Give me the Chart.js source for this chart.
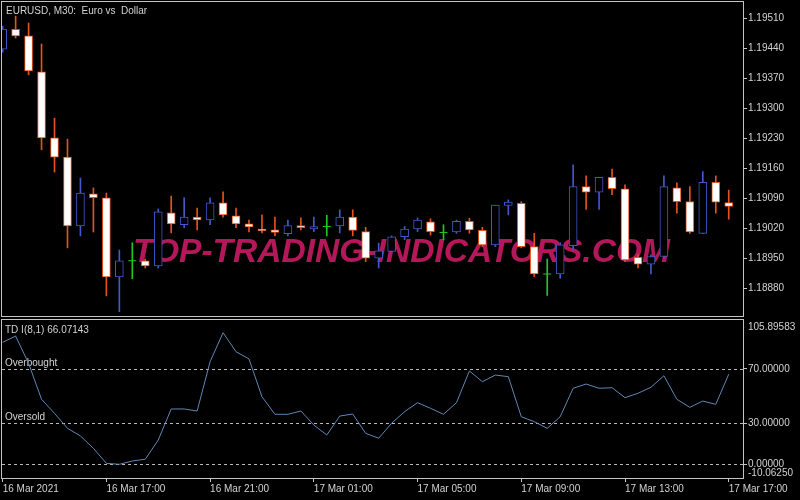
<!DOCTYPE html>
<html>
<head>
<meta charset="utf-8">
<script src="https://cdn.jsdelivr.net/npm/chart.js@4.4.1/dist/chart.umd.min.js"></script>
<style>
  body { margin: 0; background: #000; width: 800px; height: 500px; overflow: hidden; position: relative; }
  #priceChart { position: absolute; left: 0; top: 0; }
  #tdChart { position: absolute; left: 0; top: 318px; }
</style>
</head>
<body>
<canvas id="priceChart" width="800" height="318"></canvas>
<canvas id="tdChart" width="800" height="182"></canvas>
<script>
// ---------------- data (EURUSD M30, 16 Mar 13:00 -> 17 Mar 17:00) ----------------
const opens = [1.19438, 1.19484, 1.19469, 1.19385, 1.19231, 1.19186, 1.19025, 1.19100, 1.19091, 1.18906,
  1.18944, 1.18944, 1.18932, 1.19056, 1.19028, 1.19046, 1.19039, 1.19079, 1.19049, 1.19030,
  1.19018, 1.19016, 1.19007, 1.19026, 1.19018, 1.19024, 1.19025, 1.19046, 1.19012, 1.18950,
  1.18966, 1.19000, 1.19018, 1.19035, 1.19010, 1.19011, 1.19036, 1.19015, 1.18981, 1.19073,
  1.19078, 1.18977, 1.18913, 1.18913, 1.18979, 1.19117, 1.19104, 1.19139, 1.19112, 1.18952,
  1.18936, 1.18954, 1.19114, 1.19082, 1.19008, 1.19127, 1.19080];
const highs = [1.19492, 1.19515, 1.19499, 1.19450, 1.19277, 1.19228, 1.19137, 1.19114, 1.19102, 1.18969,
  1.18986, 1.18948, 1.19065, 1.19095, 1.19091, 1.19067, 1.19091, 1.19105, 1.19067, 1.19039,
  1.19051, 1.19046, 1.19039, 1.19044, 1.19046, 1.19050, 1.19063, 1.19063, 1.19022, 1.18985,
  1.19002, 1.19024, 1.19044, 1.19042, 1.19028, 1.19039, 1.19043, 1.19022, 1.19074, 1.19086,
  1.19082, 1.19008, 1.18948, 1.18986, 1.19168, 1.19142, 1.19139, 1.19158, 1.19121, 1.18958,
  1.18958, 1.19142, 1.19126, 1.19117, 1.19152, 1.19142, 1.19109];
const lows = [1.19431, 1.19464, 1.19378, 1.19203, 1.19151, 1.18974, 1.19002, 1.19011, 1.18862, 1.18825,
  1.18902, 1.18927, 1.18927, 1.19009, 1.19021, 1.19016, 1.19028, 1.19046, 1.19021, 1.19011,
  1.19009, 1.19002, 1.19002, 1.19016, 1.19012, 1.19002, 1.19009, 1.19002, 1.18942, 1.18927,
  1.18965, 1.18993, 1.19012, 1.19004, 1.18993, 1.19008, 1.19008, 1.18977, 1.18977, 1.19051,
  1.18974, 1.18907, 1.18863, 1.18903, 1.18969, 1.19064, 1.19064, 1.19098, 1.18942, 1.18927,
  1.18913, 1.18951, 1.19055, 1.19008, 1.19007, 1.19055, 1.19041];
const closes = [1.19485, 1.19469, 1.19387, 1.19231, 1.19186, 1.19025, 1.19102, 1.19091, 1.18906, 1.18944,
  1.18944, 1.18932, 1.19058, 1.19030, 1.19046, 1.19039, 1.19079, 1.19051, 1.19030, 1.19023,
  1.19014, 1.19010, 1.19026, 1.19021, 1.19024, 1.19024, 1.19046, 1.19015, 1.18950, 1.18967,
  1.19000, 1.19018, 1.19039, 1.19012, 1.19010, 1.19036, 1.19016, 1.18981, 1.19074, 1.19081,
  1.18977, 1.18913, 1.18913, 1.18981, 1.19117, 1.19104, 1.19139, 1.19112, 1.18946, 1.18936,
  1.18954, 1.19117, 1.19082, 1.19011, 1.19127, 1.19081, 1.19071];

// TD I(8,1) indicator
const tdValues = [89.5, 94.1, 74.1, 47.7, 37.4, 26.4, 20.8, 11.7, 0.7, 0.0,
  2.4, 3.7, 17.8, 40.6, 40.6, 39.1, 75.3, 96.6, 82.6, 77.3,
  49.6, 36.7, 36.7, 39.1, 28.8, 21.5, 35.4, 36.9, 22.7, 19.1,
  30.1, 38.6, 45.2, 41.1, 36.7, 45.2, 68.5, 60.6, 65.5, 64.3,
  34.9, 31.3, 26.4, 34.9, 55.8, 58.9, 55.8, 56.2, 48.9, 52.1,
  56.5, 65.0, 47.7, 41.8, 46.4, 44.0, 66.07143];
const tdLevels = [70, 30, 0];
const tdRange = [-10.0625, 105.89583];

const priceTicks = [1.19510, 1.19440, 1.19370, 1.19300, 1.19230, 1.19160, 1.19090, 1.19020, 1.18950, 1.18880];
const priceRange = [1.18815, 1.19548];

const timeTickIdx = [0, 8, 16, 24, 32, 40, 48, 56];
const timeTickLabels = ["16 Mar 2021", "16 Mar 17:00", "16 Mar 21:00", "17 Mar 01:00",
  "17 Mar 05:00", "17 Mar 09:00", "17 Mar 13:00", "17 Mar 17:00"];

// ---------------- styles ----------------
const BLUE = "#4259c9";
const ORANGE = "#e4521e";
const GREEN = "#22c622";
const TEXT = "#d2d2d2";
const FRAME = "#c4c4c4";
const FONT = '"Liberation Sans", Arial, sans-serif';

Chart.defaults.font.family = FONT;
Chart.defaults.font.size = 10;
Chart.defaults.color = TEXT;
Chart.defaults.animation = false;

const xMin = -0.05, xMax = 57.1;

const isDoji = (i) => opens[i] === closes[i];
const isBull = (i) => closes[i] > opens[i];
const candleColor = (i) => (isDoji(i) ? GREEN : isBull(i) ? BLUE : ORANGE);

const wickData = highs.map((h, i) => ({ x: i, y: [lows[i], h] }));
const wickColors = highs.map((h, i) => candleColor(i));

const bodyData = [], bodyFill = [], bodyLine = [], dojiData = [];
opens.forEach((o, i) => {
  if (isDoji(i)) {
    dojiData.push({ x: i, y: o });
  } else {
    bodyData.push({ x: i, y: [o, closes[i]] });
    bodyFill.push(isBull(i) ? "#000000" : "#ffffff");
    bodyLine.push(candleColor(i));
  }
});

// no extra room for half labels, keep the panes where MT4 has them
function noPad(s) {
  s.paddingLeft = 0; s.paddingRight = 0; s.paddingTop = 0; s.paddingBottom = 0;
}

function frame(ctx, a) {
  ctx.save();
  ctx.strokeStyle = FRAME;
  ctx.lineWidth = 1;
  ctx.strokeRect(a.left - 0.5, a.top - 0.5, a.right - a.left + 1, a.bottom - a.top + 1);
  ctx.restore();
}

// ---------------- price pane ----------------
const priceDecor = {
  id: "priceDecor",
  beforeDatasetsDraw(chart) {
    const ctx = chart.ctx;
    const txt = "TOP-TRADING-INDICATORS.COM";
    ctx.save();
    ctx.font = "italic bold 34px " + FONT;
    const w = ctx.measureText(txt).width;
    ctx.translate(133, 262);
    ctx.scale(537 / w, 1);
    ctx.fillStyle = "#b5185a";
    ctx.fillText(txt, 0, 0);
    ctx.restore();
  },
  afterDraw(chart) {
    const ctx = chart.ctx;
    frame(ctx, chart.chartArea);
    ctx.save();
    ctx.font = "10px " + FONT;
    ctx.fillStyle = TEXT;
    ctx.fillText("EURUSD, M30:  Euro vs  Dollar", 6, 14);
    ctx.restore();
  }
};

new Chart(document.getElementById("priceChart"), {
  type: "bar",
  data: {
    datasets: [
      {
        label: "wick",
        data: wickData,
        backgroundColor: wickColors,
        barThickness: 1,
        borderWidth: 0,
        grouped: false,
        order: 2
      },
      {
        label: "body",
        data: bodyData,
        backgroundColor: bodyFill,
        borderColor: bodyLine,
        borderWidth: 1,
        borderSkipped: false,
        barThickness: 8,
        grouped: false,
        order: 1
      },
      {
        type: "scatter",
        label: "doji",
        data: dojiData,
        pointStyle: "line",
        pointRadius: 4,
        borderColor: GREEN,
        borderWidth: 1,
        order: 0
      }
    ]
  },
  options: {
    responsive: false,
    layout: { autoPadding: false, padding: { left: 2, top: 2, right: 0, bottom: 2 } },
    plugins: { legend: { display: false }, tooltip: { enabled: false } },
    scales: {
      x: { type: "linear", display: false, min: xMin, max: xMax, offset: false, afterFit: noPad },
      y: {
        position: "right",
        min: priceRange[0],
        max: priceRange[1],
        afterFit: (s) => { s.width = 57; noPad(s); },
        afterBuildTicks: (s) => { s.ticks = priceTicks.map((v) => ({ value: v })); },
        grid: { drawOnChartArea: false, drawTicks: true, tickLength: 4, tickColor: FRAME },
        border: { display: false },
        ticks: { padding: 1, color: TEXT, callback: (v) => Number(v).toFixed(5) }
      }
    }
  },
  plugins: [priceDecor]
});

// ---------------- TD indicator pane ----------------
const tdDecor = {
  id: "tdDecor",
  beforeDatasetsDraw(chart) {
    const ctx = chart.ctx, a = chart.chartArea, y = chart.scales.y;
    ctx.save();
    ctx.strokeStyle = "#b8b8b8";
    ctx.lineWidth = 1;
    ctx.setLineDash([3, 3]);
    tdLevels.forEach((lv) => {
      const py = Math.round(y.getPixelForValue(lv)) + 0.5;
      ctx.beginPath();
      ctx.moveTo(a.left, py);
      ctx.lineTo(a.right, py);
      ctx.stroke();
    });
    ctx.setLineDash([]);
    ctx.font = "10px " + FONT;
    ctx.fillStyle = TEXT;
    ctx.fillText("Overbought", 5, y.getPixelForValue(70) - 3);
    ctx.fillText("Oversold", 5, y.getPixelForValue(30) - 3);
    ctx.restore();
  },
  afterDraw(chart) {
    const ctx = chart.ctx, a = chart.chartArea, y = chart.scales.y;
    frame(ctx, a);
    ctx.save();
    ctx.font = "10px " + FONT;
    ctx.fillStyle = TEXT;
    ctx.fillText("TD I(8,1) " + tdValues[tdValues.length - 1].toFixed(5), 5, a.top + 13);
    ctx.textBaseline = "middle";
    ctx.fillText(y.max.toFixed(5), a.right + 5, a.top + 7);
    ctx.fillText(y.min.toFixed(5), a.right + 5, a.bottom - 5);
    ctx.restore();
  }
};

new Chart(document.getElementById("tdChart"), {
  type: "line",
  data: {
    datasets: [{
      label: "TD I(8,1)",
      data: tdValues.map((v, i) => ({ x: i, y: v })),
      borderColor: "#5f87b5",
      borderWidth: 1,
      pointRadius: 0,
      tension: 0,
      fill: false
    }]
  },
  options: {
    responsive: false,
    layout: { autoPadding: false, padding: { left: 2, top: 2, right: 0, bottom: 0 } },
    plugins: { legend: { display: false }, tooltip: { enabled: false } },
    scales: {
      x: {
        type: "linear",
        min: xMin,
        max: xMax,
        afterFit: (s) => { s.height = 22; noPad(s); },
        afterBuildTicks: (s) => { s.ticks = timeTickIdx.map((v) => ({ value: v })); },
        grid: { drawOnChartArea: false, drawTicks: true, tickLength: 4, tickColor: FRAME },
        border: { display: false },
        ticks: {
          align: "start",
          autoSkip: false,
          maxRotation: 0,
          padding: 1,
          color: TEXT,
          callback: (v) => timeTickLabels[timeTickIdx.indexOf(v)]
        }
      },
      y: {
        position: "right",
        min: tdRange[0],
        max: tdRange[1],
        afterFit: (s) => { s.width = 57; noPad(s); },
        afterBuildTicks: (s) => { s.ticks = tdLevels.map((v) => ({ value: v })); },
        grid: { drawOnChartArea: false, drawTicks: true, tickLength: 4, tickColor: FRAME },
        border: { display: false },
        ticks: { padding: 1, color: TEXT, callback: (v) => Number(v).toFixed(5) }
      }
    }
  },
  plugins: [tdDecor]
});
</script>
</body>
</html>
